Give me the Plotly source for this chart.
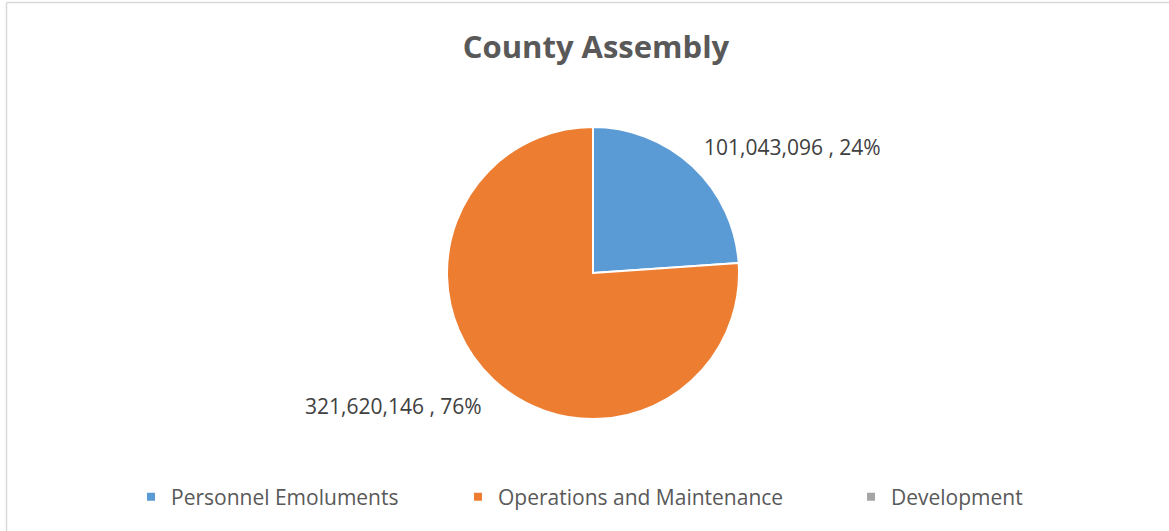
import math
import plotly.graph_objects as go

categories = ["Personnel Emoluments", "Operations and Maintenance", "Development"]
values = [101043096, 321620146, 0]
colors = ["#5B9BD5", "#ED7D31", "#A5A5A5"]
title_text = "County Assembly"

W, H = 1169, 531
CX, CY, R = 593, 273, 146   # pie centre / radius in pixels
LABEL_R = 160               # label corner distance from centre

total = sum(values)

fig = go.Figure()
fig.add_trace(go.Pie(
    labels=categories, values=values, textinfo="none",
    sort=False, direction="clockwise", rotation=0,
    marker=dict(colors=colors, line=dict(color="white", width=2)),
    showlegend=False, hoverinfo="label+value+percent",
    domain=dict(x=[(CX-R)/W, (CX+R)/W], y=[(H-CY-R)/H, (H-CY+R)/H]),
))

# data labels placed outside each slice along its mid-angle
annotations = []
cum = 0
for v in values:
    if v <= 0:
        continue
    frac = v / total
    mid = 2 * math.pi * (cum + frac / 2)
    cum += frac
    sx, sy = math.sin(mid), math.cos(mid)
    px = CX + LABEL_R * sx
    py = CY - LABEL_R * sy
    annotations.append(dict(
        text=f"{v:,} , {round(100*frac)}%", showarrow=False,
        xref="paper", yref="paper", x=px / W, y=(H - py) / H,
        xanchor="left" if sx >= 0 else "right",
        yanchor="bottom" if sy >= 0 else "top",
        yshift=-7 if sy >= 0 else 0,
        font=dict(family="Open Sans", size=21, color="#404040"),
    ))

legend_x = [153, 480, 873]
legend_names = ["legend", "legend2", "legend3"]
for name, col, lg in zip(categories, colors, legend_names):
    fig.add_trace(go.Scatter(
        x=[None], y=[None], mode="markers", name=name, legend=lg,
        marker=dict(symbol="square", size=8, color=col), showlegend=True,
        hoverinfo="skip",
    ))

legend_common = dict(orientation="h", yanchor="middle", y=(H-497)/H, xanchor="left",
                     font=dict(family="Open Sans", size=21, color="#595959"),
                     bgcolor="rgba(0,0,0,0)", borderwidth=0)
layout_legends = {}
for lg, lx in zip(legend_names, legend_x):
    layout_legends[lg] = dict(legend_common, x=(lx-22)/W)

fig.update_layout(
    width=W, height=H,
    margin=dict(l=0, r=0, t=0, b=0),
    paper_bgcolor="white", plot_bgcolor="white",
    title=dict(text="<b>" + title_text + "</b>", x=596/W, xanchor="center",
               y=(H-47)/H, yanchor="middle",
               font=dict(family="Open Sans", size=31, color="#595959")),
    xaxis=dict(visible=False), yaxis=dict(visible=False),
    annotations=annotations,
    shapes=[
        dict(type="line", xref="paper", yref="paper", x0=6.5/W, x1=6.5/W, y0=0, y1=1-2.5/H,
             line=dict(color="#D9D9D9", width=1.5)),
        dict(type="line", xref="paper", yref="paper", x0=6.5/W, x1=1, y0=1-2.5/H, y1=1-2.5/H,
             line=dict(color="#D9D9D9", width=1.5)),
    ],
    **layout_legends,
)

fig.write_html("out.html", config={"displayModeBar": False},
               post_script="document.body.style.margin='0';")
